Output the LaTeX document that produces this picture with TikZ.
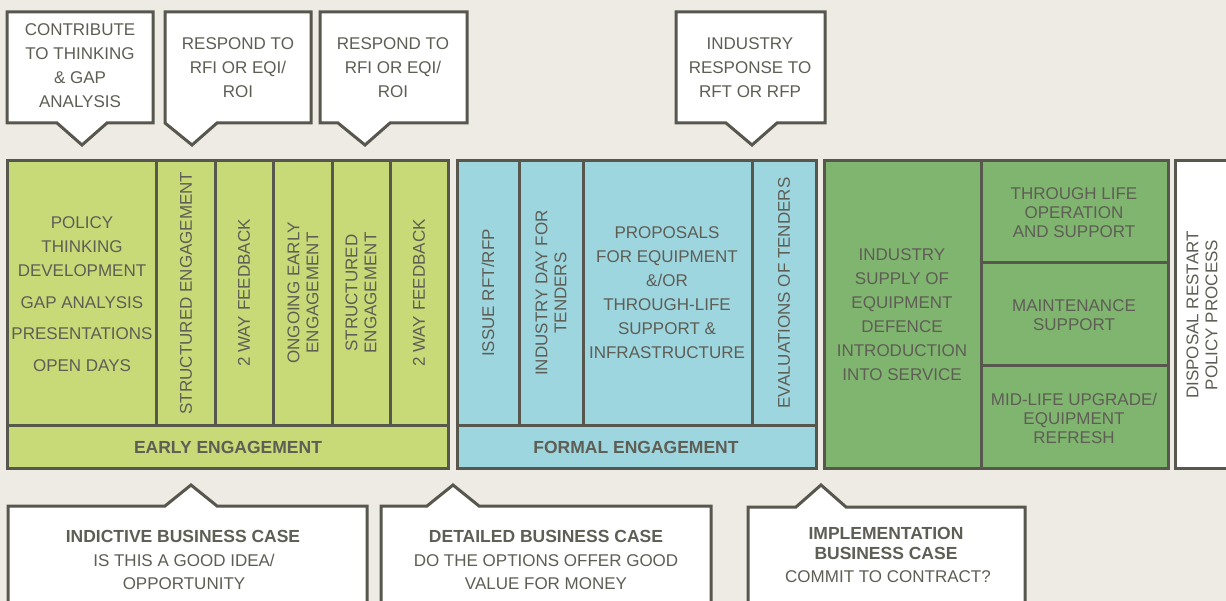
\documentclass[tikz,border=0pt]{standalone}
\usepackage{fontspec}
\setmainfont{Liberation Sans}
\definecolor{bgcol}{HTML}{EEEBE5}
\definecolor{edgecol}{HTML}{57574E}
\definecolor{txtcol}{HTML}{5E5E55}
\definecolor{earlycol}{HTML}{C8DA77}
\definecolor{formalcol}{HTML}{9ED6E0}
\definecolor{supplycol}{HTML}{80B570}
\begin{document}
\begin{tikzpicture}[x=1pt,y=-1pt,
    box/.style={draw=edgecol,line width=3pt,line join=miter},
    lbl/.style={text=txtcol,align=center,inner sep=0pt,font=\fontsize{17}{24}\selectfont},
    tight/.style={lbl,font=\fontsize{17}{19}\selectfont},
    vlbl/.style={tight,rotate=90},
    head/.style={lbl,font=\fontsize{17.5}{20}\selectfont\bfseries}]
    % \clip to the page
    \fill [bgcol] (0,0) rectangle (1226,601);%
    \useasboundingbox (0,0) rectangle (1226,601);%
    \clip (0,0) rectangle (1226,601);%

    % Drawing callout contribute
    \draw [box,fill=white] (7,12) -- (153,12) -- (153,123) -- (107,123) -- (82,145) -- (57,123) -- (7,123) -- cycle;%
    \node [lbl] (contribute) at (80,66) {CONTRIBUTE\\TO THINKING\\\& GAP\\ANALYSIS};%

    % Drawing callout respond A
    \draw [box,fill=white] (165,12) -- (311,12) -- (311,123) -- (217,123) -- (192,145) -- (165,123) -- cycle;%
    \node [lbl] (respondA) at (238,68) {RESPOND TO\\RFI OR EQI/\\ROI};%

    % Drawing callout respond B
    \draw [box,fill=white] (320,12) -- (467,12) -- (467,123) -- (390,123) -- (365,145) -- (338,123) -- (320,123) -- cycle;%
    \node [lbl] (respondB) at (393,68) {RESPOND TO\\RFI OR EQI/\\ROI};%

    % Drawing callout industry response
    \draw [box,fill=white] (676,12) -- (825,12) -- (825,123) -- (777,123) -- (752,145) -- (726,123) -- (676,123) -- cycle;%
    \node [lbl] (response) at (750,68) {INDUSTRY\\RESPONSE TO\\RFT OR RFP};%

    % Drawing band early engagement
    \draw [box,fill=earlycol] (7,161) rectangle (448,468);%
    \draw [box] (7,425) -- (448,425);%
    \draw [box] (156,161) -- (156,425);%
    \draw [box] (215,161) -- (215,425);%
    \draw [box] (273,161) -- (273,425);%
    \draw [box] (332,161) -- (332,425);%
    \draw [box] (390,161) -- (390,425);%
    \node [lbl] (policy) at (82,294) {POLICY\\THINKING\\DEVELOPMENT\\[8pt]GAP ANALYSIS\\[7pt]PRESENTATIONS\\[8pt]OPEN DAYS};%
    \node [vlbl] (structA) at (186,293) {STRUCTURED ENGAGEMENT};%
    \node [vlbl] (feedA) at (244,293) {2 WAY FEEDBACK};%
    \node [vlbl] (ongoing) at (303,293) {ONGOING EARLY\\ENGAGEMENT};%
    \node [vlbl] (structB) at (361,293) {STRUCTURED\\ENGAGEMENT};%
    \node [vlbl] (feedB) at (419,293) {2 WAY FEEDBACK};%
    \node [head] (early) at (228,447) {EARLY ENGAGEMENT};%

    % Drawing band formal engagement
    \draw [box,fill=formalcol] (457,161) rectangle (816,468);%
    \draw [box] (457,425) -- (816,425);%
    \draw [box] (519,161) -- (519,425);%
    \draw [box] (583,161) -- (583,425);%
    \draw [box] (752,161) -- (752,425);%
    \node [vlbl] (issue) at (488,293) {ISSUE RFT/RFP};%
    \node [vlbl] (tenderday) at (551,293) {INDUSTRY DAY FOR\\TENDERS};%
    \node [lbl] (proposals) at (667,293) {PROPOSALS\\FOR EQUIPMENT\\\&/OR\\THROUGH-LIFE\\SUPPORT \&\\INFRASTRUCTURE};%
    \node [vlbl] (evaluate) at (784,293) {EVALUATIONS OF TENDERS};%
    \node [head] (formal) at (636,447) {FORMAL ENGAGEMENT};%

    % Drawing band supply and support
    \draw [box,fill=supplycol] (824,161) rectangle (1168,468);%
    \draw [box] (981,161) -- (981,468);%
    \draw [box] (981,263) -- (1168,263);%
    \draw [box] (981,366) -- (1168,366);%
    \node [lbl] (supply) at (902,315) {INDUSTRY\\SUPPLY OF\\EQUIPMENT\\DEFENCE\\INTRODUCTION\\INTO SERVICE};%
    \node [tight] (operation) at (1074,213) {THROUGH LIFE\\OPERATION\\AND SUPPORT};%
    \node [tight] (maintain) at (1074,315) {MAINTENANCE\\SUPPORT};%
    \node [tight] (upgrade) at (1074,418) {MID-LIFE UPGRADE/\\EQUIPMENT\\REFRESH};%

    % Drawing band disposal
    \draw [box,fill=white] (1175,161) rectangle (1240,468);%
    \node [vlbl] (disposal) at (1202,315) {DISPOSAL RESTART\\POLICY PROCESS};%

    % Drawing callout indictive case
    \draw [box,fill=white] (8,620) -- (8,506) -- (165,506) -- (191,485) -- (217,506) -- (367,506) -- (367,620);%
    \node [head] (indictive) at (183,536) {INDICTIVE BUSINESS CASE};%
    \node [lbl,font=\fontsize{17}{23}\selectfont] (idea) at (184,572) {IS THIS A GOOD IDEA/\\OPPORTUNITY};%

    % Drawing callout detailed case
    \draw [box,fill=white] (381,620) -- (381,506) -- (427,506) -- (453,485) -- (479,506) -- (711,506) -- (711,620);%
    \node [head] (detailed) at (546,536) {DETAILED BUSINESS CASE};%
    \node [lbl,font=\fontsize{17}{23}\selectfont] (value) at (546,572) {DO THE OPTIONS OFFER GOOD\\VALUE FOR MONEY};%

    % Drawing callout implementation case
    \draw [box,fill=white] (748,620) -- (748,507) -- (796,507) -- (821,485) -- (846,507) -- (1025,507) -- (1025,620);%
    \node [head] (implement) at (886,543) {IMPLEMENTATION\\BUSINESS CASE};%
    \node [lbl] (commit) at (888,577) {COMMIT TO CONTRACT?};%
\end{tikzpicture}
\end{document}
